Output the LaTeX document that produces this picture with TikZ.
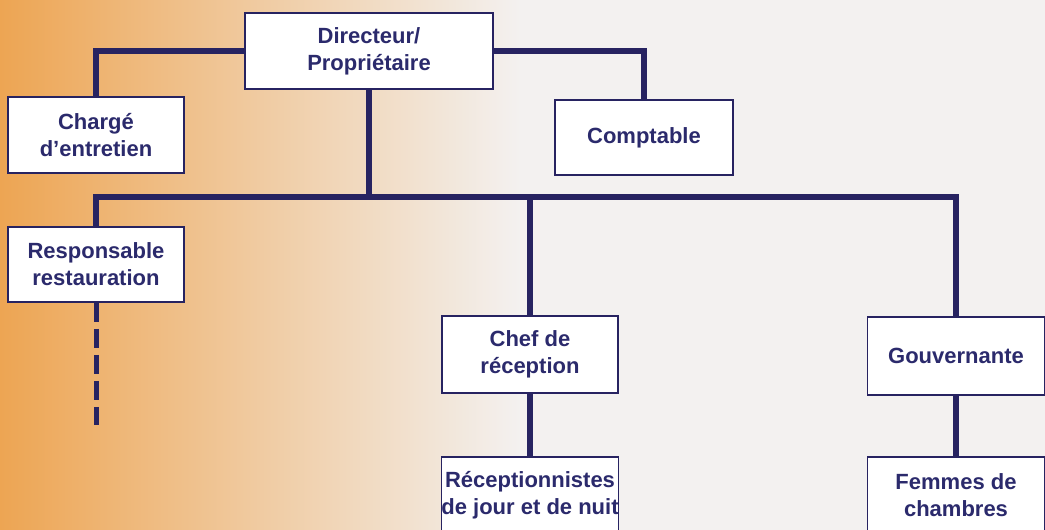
\documentclass[tikz,border=0pt]{standalone}
\usepackage{fontspec}
\setmainfont{Liberation Sans}
\definecolor{navy}{HTML}{272361}
\definecolor{boxtext}{HTML}{2B2A6C}
\definecolor{warm}{HTML}{EDA553}
\definecolor{pale}{HTML}{F6DCB6}
\definecolor{paper}{HTML}{F3F1F0}

\begin{document}
\begin{tikzpicture}[x=1pt,y=-1pt,font=\bfseries\fontsize{22}{27}\selectfont,
    post/.style={draw=navy,line width=1.5pt,fill=white,text=boxtext,align=center,inner sep=0pt},
    link/.style={draw=navy,line width=6pt},
    dotted link/.style={draw=navy,line width=5pt,dash pattern=on 19pt off 7pt}]

    \useasboundingbox (0,0) rectangle (1045,530);
    \clip (0,0) rectangle (1045,530);
    \shade[left color=warm,middle color=pale,right color=paper] (0,0) rectangle (520,530);
    \fill[paper] (519,0) rectangle (1045,530);

    % top of the chart
    \node[post,minimum width=248pt,minimum height=76pt] (dir) at (369,51) {Directeur/\\Propriétaire};
    \node[post,minimum width=176pt,minimum height=76pt] (charge) at (96,135) {Chargé\\d’entretien};
    \node[post,minimum width=178pt,minimum height=75pt] (compta) at (644,137.5) {Comptable};

    % services
    \node[post,minimum width=176pt,minimum height=75pt] (resto) at (96,264.5) {Responsable\\restauration};
    \node[post,minimum width=176pt,minimum height=77pt] (chef) at (530,354.5) {Chef de\\réception};
    \node[post,minimum width=177pt,minimum height=78pt] (gouv) at (956,356) {Gouvernante};
    \node[post,minimum width=176pt,minimum height=76pt] (recep) at (530,495) {Réceptionnistes\\de jour et de nuit};
    \node[post,minimum width=177pt,minimum height=76pt] (femmes) at (956,495) {Femmes de\\chambres};

    \coordinate (bus) at (369,197);
    \coordinate (restoend) at (96,425);

    \draw[link] (dir.west) -| (charge.north);
    \draw[link] (dir.east) -| (compta.north);
    \draw[link] (dir.south) -- (bus);
    \draw[link] (resto.north) |- (gouv.north |- bus) -- (gouv.north);
    \draw[link] (chef.north |- bus) -- (chef.north);
    \draw[link] (chef.south) -- (recep.north);
    \draw[link] (gouv.south) -- (femmes.north);
    \draw[dotted link] (resto.south) -- (restoend);
\end{tikzpicture}
\end{document}
